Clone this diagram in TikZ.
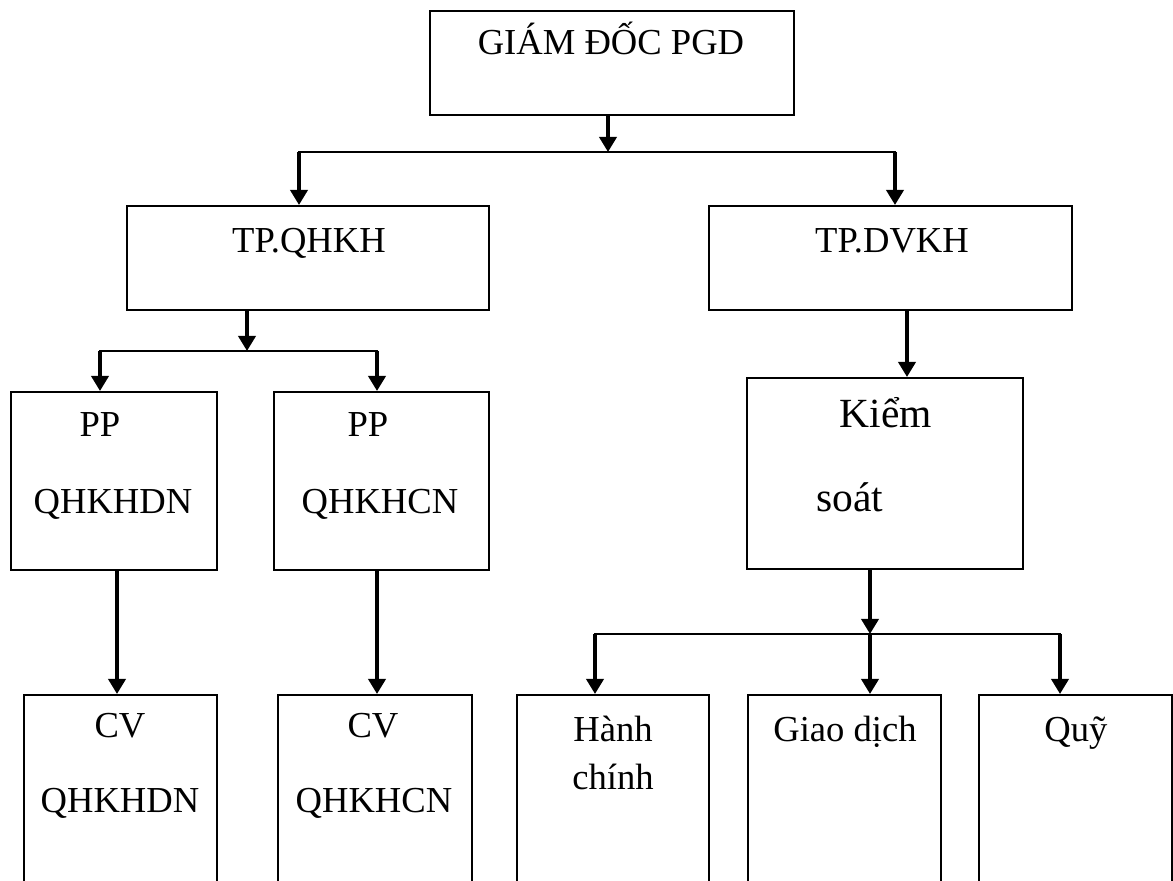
\documentclass[tikz,border=0pt]{standalone}
\usepackage{fontspec}
\setmainfont{Liberation Serif}
\usetikzlibrary{arrows.meta,fit}
\begin{document}
\begin{tikzpicture}[x=0.5pt,y=-0.5pt,
  box/.style={draw, line width=1pt, inner sep=0pt, rectangle},
  lbl/.style={font=\fontsize{18.3}{22}\selectfont, inner sep=0pt, anchor=base},
  biglbl/.style={font=\fontsize{20.75}{25}\selectfont, inner sep=0pt, anchor=base},
  arr/.style={line width=1.8pt, -{Triangle[width=8.5pt,length=7.5pt]}},
  bus/.style={line width=1.2pt, line cap=rect}]
\clip (0,0) rectangle (1173,881);
\fill[white] (0,0) rectangle (1173,881);

% boxes
\node[box, fit={(430,11) (794,115)}] (gd) {};
\node[box, fit={(127,206) (489,310)}] (qhkh) {};
\node[box, fit={(709,206) (1072,310)}] (dvkh) {};
\node[box, fit={(11,392) (217,570)}] (pp1) {};
\node[box, fit={(274,392) (489,570)}] (pp2) {};
\node[box, fit={(24,695) (217,900)}] (cv1) {};
\node[box, fit={(278,695) (472,900)}] (cv2) {};
\node[box, fit={(747,378) (1023,569)}] (ks) {};
\node[box, fit={(517,695) (709,900)}] (hc) {};
\node[box, fit={(748,695) (941,900)}] (gdich) {};
\node[box, fit={(979,695) (1172,900)}] (quy) {};

% labels
\node[lbl] (tgd) at (611,55) {GIÁM ĐỐC PGD};
\node[lbl] (tqhkh) at (309,253) {TP.QHKH};
\node[lbl] (tdvkh) at (892,253) {TP.DVKH};
\node[lbl] (tpp1a) at (100,437) {PP};
\node[lbl] (tpp1b) at (113,514) {QHKHDN};
\node[lbl] (tpp2a) at (368,437) {PP};
\node[lbl] (tpp2b) at (380,514) {QHKHCN};
\node[lbl] (tcv1a) at (120,738) {CV};
\node[lbl] (tcv1b) at (120,812) {QHKHDN};
\node[lbl] (tcv2a) at (373,738) {CV};
\node[lbl] (tcv2b) at (374,812) {QHKHCN};
\node[biglbl] (tksa) at (886,428) {Kiểm};
\node[biglbl] (tksb) at (850,512) {soát};
\node[lbl] (thca) at (613,741) {Hành};
\node[lbl] (thcb) at (613,790) {chính};
\node[lbl] (tgdich) at (845,741) {Giao dịch};
\node[lbl] (tquy) at (1076,741) {Quỹ};

% level 1
\coordinate (j1) at (608,152);
\coordinate (b1l) at (299,152);
\coordinate (b1r) at (895,152);
\draw[arr] (gd.south -| j1) -- (j1);
\draw[bus] (b1l) -- (b1r);
\draw[arr] (b1l) -- (b1l |- qhkh.north);
\draw[arr] (b1r) -- (b1r |- dvkh.north);

% left branch
\coordinate (j2) at (247,351);
\coordinate (b2l) at (100,351);
\coordinate (b2r) at (377,351);
\draw[arr] (qhkh.south -| j2) -- (j2);
\draw[bus] (b2l) -- (b2r);
\draw[arr] (b2l) -- (b2l |- pp1.north);
\draw[arr] (b2r) -- (b2r |- pp2.north);
\coordinate (c1) at (117,570);
\coordinate (c2) at (377,570);
\draw[arr] (pp1.south -| c1) -- (c1 |- cv1.north);
\draw[arr] (pp2.south -| c2) -- (c2 |- cv2.north);

% right branch
\coordinate (k1) at (907,310);
\draw[arr] (dvkh.south -| k1) -- (k1 |- ks.north);
\coordinate (j3) at (870,634);
\coordinate (b3l) at (595,634);
\coordinate (b3r) at (1060,634);
\draw[arr] (ks.south -| j3) -- (j3);
\draw[bus] (b3l) -- (b3r);
\draw[arr] (b3l) -- (b3l |- hc.north);
\draw[arr] (j3) -- (j3 |- gdich.north);
\draw[arr] (b3r) -- (b3r |- quy.north);
\end{tikzpicture}
\end{document}
